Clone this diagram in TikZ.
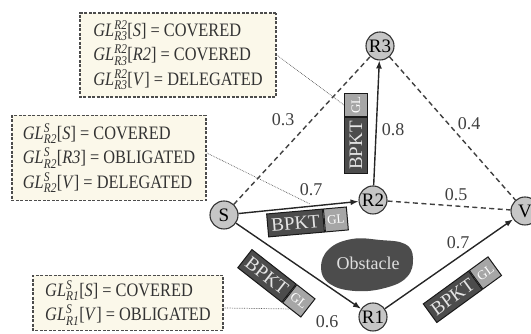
\documentclass[tikz,border=0pt]{standalone}
\usepackage{fontspec}
\setmainfont{Liberation Serif}
\usepackage{amsmath}
\usetikzlibrary{arrows.meta}
\definecolor{cream}{HTML}{FBF8EA}
\newcommand{\glx}[2]{$\textit{GL}^{\textit{#1}}_{\textit{#2}}$}
\begin{document}
\begin{tikzpicture}[x=1pt,y=1pt,
  vtx/.style={circle, draw=black!80, line width=1.1pt, fill=gray!45, minimum size=28pt, inner sep=0pt, font=\fontsize{19}{19}\selectfont},
  arr/.style={-{Latex[length=8pt,width=6pt]}, line width=1.4pt, draw=black!85},
  dsh/.style={dash pattern=on 5pt off 3.5pt, line width=1.4pt, draw=black!75},
  lbl/.style={font=\fontsize{18}{18}\selectfont, inner sep=1pt, text=black!75},
  infobox/.style={draw=black!70, dash pattern=on 3pt off 1.5pt, line width=1.5pt, fill=cream, align=left, font=\fontsize{19}{24.5}\selectfont, text=black!80, inner xsep=3pt, xscale=0.86, transform shape},
  bpkt/.style={draw=black!90, line width=1pt, fill=black!70, text=white!90!black, minimum height=23pt, minimum width=56pt, inner sep=0.5pt, font=\fontsize{19}{19}\selectfont, transform shape},
  glbox/.style={draw=black!90, line width=1pt, fill=black!35, text=white, minimum size=23pt, inner sep=0pt, font=\fontsize{13}{13}\selectfont, transform shape},
  callout/.style={line width=0.7pt, draw=black!65, densely dotted}
]
\useasboundingbox (0,0) rectangle (531,334);

% obstacle
\fill[black!70] plot[smooth cycle, tension=0.7] coordinates {
  (321,66) (329,85) (352,95) (380,94) (405,90) (413,76) (407,57) (385,46) (355,43) (330,50)};
\node[font=\fontsize{18}{18}\selectfont, text=gray!25] (obs) at (368,71) {Obstacle};

% vertices
\node[vtx] (S)  at (224,119) {S};
\node[vtx] (R2) at (373,134) {R2};
\node[vtx] (R3) at (380,288) {R3};
\node[vtx] (V)  at (525,123) {V};
\node[vtx] (R1) at (373,17)  {R1};

% links
\draw[dsh] (S) -- (R3);
\draw[dsh] (R3) -- (V);
\draw[dsh] (R2) -- (V);
\draw[arr] (S) -- (R2);
\draw[arr] (R2) -- (R3);
\draw[arr] (S) -- (R1);
\draw[arr] (R1) -- (V);

% link labels
\node[lbl] (l03) at (283,214) {0.3};
\node[lbl] (l08) at (393,204) {0.8};
\node[lbl] (l04) at (469,210) {0.4};
\node[lbl] (l07a) at (311,144) {0.7};
\node[lbl] (l05) at (456,139) {0.5};
\node[lbl] (l07b) at (458,91) {0.7};
\node[lbl] (l06) at (327,12) {0.6};

% packets
\begin{scope}[shift={(307,112)}, rotate=5]
  \node[bpkt, anchor=east] (p1) at (17,0) {BPKT};
  \node[glbox, anchor=west] (p1g) at (p1.east) {GL};
\end{scope}
\begin{scope}[shift={(356,200)}, rotate=90]
  \node[bpkt, anchor=east] (p2) at (17,0) {BPKT};
  \node[glbox, anchor=west] (p2g) at (p2.east) {GL};
\end{scope}
\begin{scope}[shift={(276,51)}, rotate=-38]
  \node[bpkt, anchor=east] (p3) at (17,0) {BPKT};
  \node[glbox, anchor=west] (p3g) at (p3.east) {GL};
\end{scope}
\begin{scope}[shift={(462,44)}, rotate=36]
  \node[bpkt, anchor=east] (p4) at (17,0) {BPKT};
  \node[glbox, anchor=west] (p4g) at (p4.east) {GL};
\end{scope}

% info boxes (minimum widths divided by the 0.86 x-scale)
\node[infobox, minimum width=228pt, minimum height=84pt] (b1) at (178,279) {%
\glx{R2}{R3}[\textit{S}] = COVERED\\
\glx{R2}{R3}[\textit{R2}] = COVERED\\
\glx{R2}{R3}[\textit{V}] = DELEGATED};
\node[infobox, minimum width=226pt, minimum height=85pt] (b2) at (109,176) {%
\glx{S}{R2}[\textit{S}] = COVERED\\
\glx{S}{R2}[\textit{R3}] = OBLIGATED\\
\glx{S}{R2}[\textit{V}] = DELEGATED};
\node[infobox, minimum width=221pt, minimum height=55pt] (b3) at (128,31) {%
\glx{S}{R1}[\textit{S}] = COVERED\\
\glx{S}{R1}[\textit{V}] = OBLIGATED};

% callouts
\coordinate (c2) at (310,130);
\coordinate (c3) at (292,25);
\draw[callout] (b1.east) -- (p2g.north);
\draw[callout] ([yshift=5pt]b2.east) -- (c2);
\draw[callout] ([yshift=-5pt]b3.east) -- (c3);
\end{tikzpicture}
\end{document}
